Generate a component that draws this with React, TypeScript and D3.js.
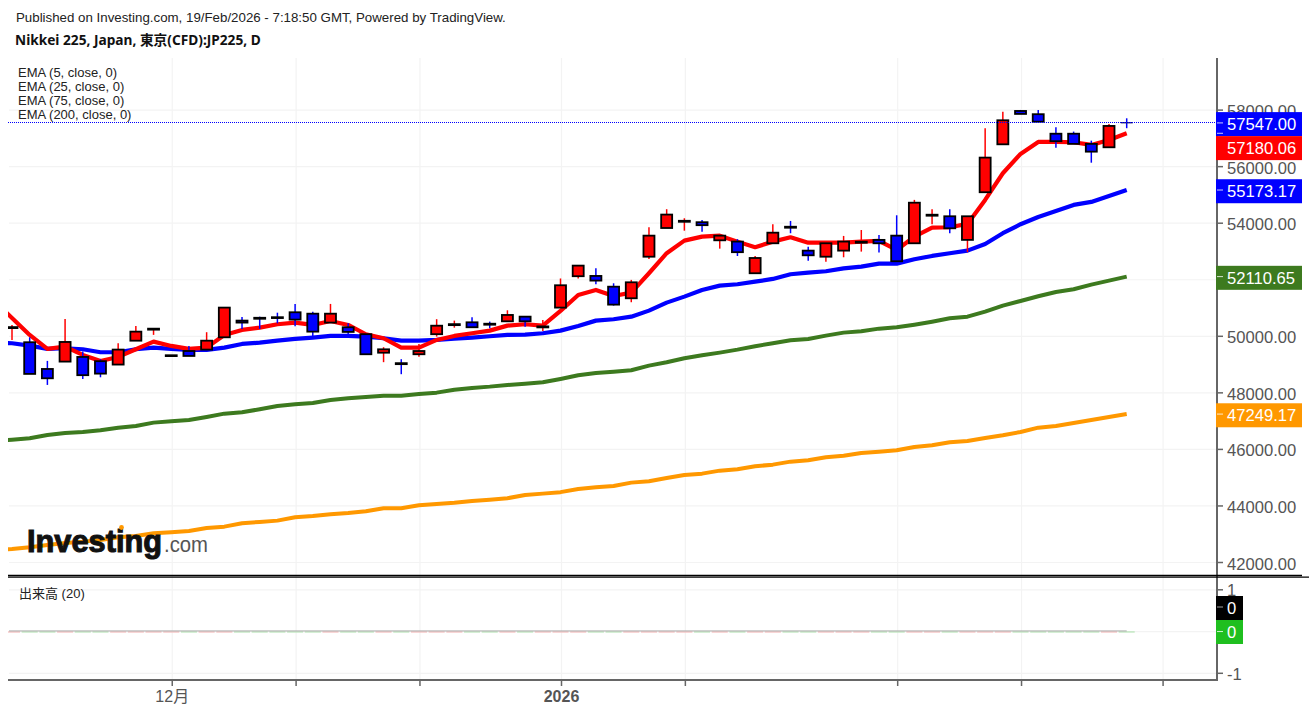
import React from "react";
import * as d3 from "d3";

const opens = [50290,49790,48845,49105,49270,49120,49000,49845,50235,49300,49480,49530,49965,50555,50655,50675,50850,50800,50485,50320,50075,49420,49050,49365,50075,50395,50495,50445,50530,50695,50315,51015,52125,52135,51755,51345,52815,53830,54050,54035,53395,53350,52230,53290,53875,53030,52815,53030,53310,53410,53560,53290,54265,54245,53410,55095,56790,57970,57855,57165,57165,56805,56685,57555];
const highs = [50400,49965,49130,50615,49460,49190,49755,50365,50270,49335,49660,50145,51015,50685,50695,50835,51145,50870,51145,50460,50075,49615,49190,49730,50605,50555,50675,50520,50920,50695,50580,52045,52500,52405,51875,51995,53855,54495,54175,54115,53560,53435,52840,53965,54080,53170,53290,53550,53760,53585,54280,54825,54495,54495,54245,57360,57945,58005,58005,57395,57240,56920,57510,57710];
const lows = [49870,48670,48280,49105,48490,48550,48985,49845,50050,49300,49305,49515,49965,50260,50260,50460,50355,50015,50485,50085,49365,49085,48660,49280,49990,50305,50320,50285,50530,50340,50190,51015,52040,51840,51085,51205,52735,53830,53735,53700,53100,52840,52230,53290,53645,52675,52640,52795,52995,52960,52655,53290,53965,53645,52975,55095,56790,57865,57590,56670,56805,56140,56685,57360];
const closes = [50325,48670,48515,49800,48625,48680,49530,50165,50270,49330,49305,49845,51015,50485,50620,50645,50590,50165,50800,50155,49365,49540,49015,49480,50375,50430,50320,50410,50755,50530,50350,51805,52500,51970,51120,51910,53560,54305,54085,53930,53560,52975,52770,53665,53840,52865,53290,53350,53345,53290,52655,54725,54300,53820,54245,56320,57640,57865,57590,56900,56805,56530,57440,57547];

// Each EMA list starts one session before the first candle; that point lies just off the plot's left edge.
const ema5 = [51250,50649,50048,49553,49634,49341,49129,49270,49542,49811,49659,49553,49599,50048,50225,50306,50426,50483,50402,50543,50402,50073,49931,49599,49599,49871,50013,50108,50200,50377,50426,50377,50897,51463,51640,51427,51544,52230,52938,53383,53525,53560,53348,53150,53348,53503,53312,53312,53312,53348,53373,53054,53525,53843,53857,53974,54823,55767,56450,56874,56874,56863,56768,56945,57180.06];
const ema25 = [49765,49755,49670,49553,49578,49542,49436,49436,49542,49599,49553,49517,49517,49599,49730,49776,49846,49906,49953,50013,50013,49988,49931,49846,49846,49871,49917,49953,50002,50048,50059,50108,50200,50366,50554,50603,50695,50908,51191,51403,51640,51792,51841,51933,52029,52195,52251,52301,52400,52464,52570,52570,52725,52842,52938,53030,53267,53645,53963,54221,54434,54646,54752,54964,55173.17];
const ema75 = [46300,46345,46394,46511,46582,46617,46677,46769,46830,46947,46996,47042,47148,47265,47314,47420,47537,47597,47643,47749,47810,47855,47901,47901,47961,48007,48113,48174,48220,48280,48326,48375,48492,48623,48704,48750,48800,48962,49083,49224,49330,49422,49528,49649,49755,49861,49906,50023,50130,50179,50271,50320,50412,50518,50638,50695,50872,51084,51250,51417,51569,51664,51827,51969,52110.65];
const ema200 = [42445,42480,42540,42621,42692,42738,42798,42893,42939,43035,43070,43116,43222,43268,43389,43435,43481,43601,43647,43707,43753,43813,43919,43919,44025,44071,44117,44177,44223,44273,44390,44436,44488,44602,44662,44708,44825,44874,44991,45097,45143,45249,45298,45404,45461,45567,45617,45723,45779,45875,45921,45970,46087,46147,46253,46299,46405,46500,46617,46769,46830,46936,47042,47148,47249.17];

const priceTicks = [42000,44000,46000,48000,50000,52000,54000,56000,58000];
const volumeTicks = [1,0,-1];
const timeTickIndex = [9,16,23,31,38,50,57,65];
const timeTickLabel = ["12月","","","2026","","","",""];
const timeTickBold = [false,false,false,true,false,false,false,false];
const legendLabels = ["EMA (5, close, 0)","EMA (25, close, 0)","EMA (75, close, 0)","EMA (200, close, 0)"];
const lastPrice = 57547;

const RED = "#ff0000";
const BLUE = "#0000ff";
const GREEN = "#3d7a1f";
const ORANGE = "#ff9800";
const GRID = "#f3f3f3";
const AXIS = "#666666";
const TEXT = "#555555";
const SANS = "'Liberation Sans','Noto Sans CJK JP',sans-serif";

const L = 9, R = 1217, TOP = 58, BOTTOM = 680;

const x = d3.scaleLinear().domain([0, 63]).range([12, 1126.7]);
const y = d3.scaleLinear().domain([42000, 58000]).range([562.5, 110.1]);
const yVol = d3.scaleLinear().domain([-1, 1]).range([673.3, 589.8]);

const lineGen = d3.line<number>().x((_, i) => x(i - 1)).y(d => y(d));

const emaSeries = [
  { values: ema200, color: ORANGE, w: 4 },
  { values: ema75, color: GREEN, w: 4 },
  { values: ema25, color: BLUE, w: 4.2 },
  { values: ema5, color: RED, w: 4.2 },
];

const badgeList = [
  { value: lastPrice, text: "57547.00", color: BLUE },
  { value: ema5[64], text: "57180.06", color: RED },
  { value: ema25[64], text: "55173.17", color: BLUE },
  { value: ema75[64], text: "52110.65", color: GREEN },
  { value: ema200[64], text: "47249.17", color: ORANGE },
];

// Badges are pushed down when they would collide with the one above.
const BADGE_H = 24;
function placeBadges() {
  let prevBottom = -Infinity;
  return badgeList.map(b => {
    const cy = Math.max(y(b.value) + 1.2, prevBottom + BADGE_H / 2);
    prevBottom = cy + BADGE_H / 2;
    return { ...b, cy };
  });
}

export default function App() {
  const bw = 11;
  const badges = placeBadges();
  const priceLineY = Math.floor(y(lastPrice)) + 0.5;
  return (
    <svg width={1309} height={713} viewBox="0 0 1309 713"
      style={{ position: "absolute", left: 0, top: 0, display: "block", background: "#fff" }}
      fontFamily={SANS}>
      <defs>
        <clipPath id="plot">
          <rect x={L - 1} y={TOP} width={R - L + 1} height={BOTTOM - TOP} />
        </clipPath>
      </defs>
      {/* grid */}
      {priceTicks.map(t => (
        <line key={t} x1={L} x2={R} y1={y(t)} y2={y(t)} stroke={GRID} strokeWidth={1.2} />
      ))}
      {volumeTicks.map(t => (
        <line key={t} x1={L} x2={R} y1={yVol(t)} y2={yVol(t)} stroke={GRID} strokeWidth={1.2} />
      ))}
      {timeTickIndex.map(i => (
        <line key={i} x1={x(i) + 1} x2={x(i) + 1} y1={TOP} y2={BOTTOM} stroke={GRID} strokeWidth={1.2} />
      ))}

      <g clipPath="url(#plot)">
        {/* EMA lines */}
        {emaSeries.map((s, k) => (
          <path key={k} d={lineGen(s.values) ?? ""} fill="none" stroke={s.color} strokeWidth={s.w} strokeLinejoin="round" />
        ))}

        {/* candles */}
        {closes.map((c, i) => {
          const o = opens[i];
          const col = c >= o ? RED : BLUE;
          const top = y(Math.max(o, c));
          const bot = y(Math.min(o, c));
          return (
            <g key={i}>
              <line x1={x(i)} x2={x(i)} y1={y(highs[i])} y2={y(lows[i])} stroke={col} strokeWidth={1.5} />
              {i === 63 ? (
                <line x1={x(i) - 6} x2={x(i) + 6} y1={top} y2={top} stroke="#1a1a66" strokeWidth={1.4} />
              ) : (
                <rect x={x(i) - bw / 2} y={top} width={bw} height={Math.max(bot - top, 0.8)}
                  fill={col} stroke="#000" strokeWidth={1.8} />
              )}
            </g>
          );
        })}
      </g>

      {/* last price dotted line */}
      <line x1={L - 1} x2={R} y1={priceLineY} y2={priceLineY}
        stroke="#0000ff" strokeWidth={1} strokeDasharray="1 1" />

      {/* volume pane */}
      <g clipPath="url(#plot)">
        {closes.map((c, i) => (
          <line key={i} x1={x(i) - 8} x2={x(i) + 8} y1={yVol(0) + 0.4} y2={yVol(0) + 0.4}
            stroke={c >= opens[i] ? "#f4b6b6" : "#b4e4b4"} strokeWidth={1.2} />
        ))}
      </g>
      <line x1={L} x2={x(63)} y1={yVol(0) - 0.6} y2={yVol(0) - 0.6} stroke="#aaaaaa" strokeWidth={1} />

      {/* logo */}
      <text x={27} y={552} fontSize={32} fontWeight={700} fill="#111" stroke="#111" strokeWidth={1.1}
        textLength={135} lengthAdjust="spacingAndGlyphs">Investing</text>
      <circle cx={121.5} cy={527.5} r={2.4} fill={ORANGE} />
      <text x={164} y={552} fontSize={22} fill="#555" textLength={44} lengthAdjust="spacingAndGlyphs">.com</text>

      {/* axes */}
      <line x1={R} x2={R} y1={TOP} y2={BOTTOM + 1} stroke={AXIS} strokeWidth={2} />
      <line x1={L - 1} x2={R} y1={BOTTOM} y2={BOTTOM} stroke={AXIS} strokeWidth={2} />
      {priceTicks.map(t => (
        <g key={t}>
          <line x1={R} x2={R + 6} y1={y(t)} y2={y(t)} stroke={AXIS} strokeWidth={1.5} />
          <text x={1227} y={y(t) + 7} fontSize={16.6} fill={TEXT}>{d3.format(".2f")(t)}</text>
        </g>
      ))}
      {volumeTicks.map(t => (
        <g key={t}>
          <line x1={R} x2={R + 6} y1={yVol(t)} y2={yVol(t)} stroke={AXIS} strokeWidth={1.5} />
          <text x={1227} y={yVol(t) + 6.5} fontSize={16.6} fill={TEXT}>{t < 0 ? "-" + Math.abs(t) : t}</text>
        </g>
      ))}
      {timeTickIndex.map((i, k) => (
        <g key={i}>
          <line x1={x(i) + 1} x2={x(i) + 1} y1={BOTTOM} y2={BOTTOM + 6} stroke={AXIS} strokeWidth={1.5} />
          {timeTickLabel[k] && (
            <text x={x(i) + 1} y={702} fontSize={16} textAnchor="middle" fill={TEXT}
              fontWeight={timeTickBold[k] ? 700 : 400}>{timeTickLabel[k]}</text>
          )}
        </g>
      ))}

      {/* pane separator */}
      <line x1={L - 1} x2={1302} y1={575.5} y2={575.5} stroke="#000" strokeWidth={1.3} />
      <line x1={L - 1} x2={1309} y1={577.2} y2={577.2} stroke="#000" strokeWidth={1.3} />

      {/* value badges */}
      {badges.map(b => (
        <g key={b.text}>
          <rect x={1216} y={b.cy - BADGE_H / 2} width={86} height={BADGE_H} fill={b.color} />
          <line x1={R} x2={R + 6} y1={y(b.value)} y2={y(b.value)} stroke="#fff" strokeWidth={0.8} />
          <text x={1227} y={b.cy + 6} fontSize={16.6} fill="#fff">{b.text}</text>
        </g>
      ))}
      <rect x={1216} y={596} width={27} height={BADGE_H} fill="#000" />
      <line x1={R} x2={R + 6} y1={607} y2={607} stroke="#ccc" strokeWidth={0.8} />
      <text x={1227} y={614} fontSize={16.6} fill="#fff">0</text>
      <rect x={1216} y={620} width={27} height={BADGE_H} fill="#1fbf1f" />
      <line x1={R} x2={R + 6} y1={yVol(0)} y2={yVol(0)} stroke="#fff" strokeWidth={0.8} />
      <text x={1227} y={638} fontSize={16.6} fill="#fff">0</text>

      {/* text */}
      <text x={16} y={22} fontSize={13.3} fill="#222">Published on Investing.com, 19/Feb/2026 - 7:18:50 GMT, Powered by TradingView.</text>
      <text x={15} y={45} fontSize={13.7} fontWeight={700} fill="#111" fontFamily="'Noto Sans','Noto Sans CJK JP',sans-serif">Nikkei 225, Japan, 東京(CFD):JP225, D</text>
      {legendLabels.map((t, i) => (
        <text key={t} x={18} y={76.5 + i * 14} fontSize={13} fill="#222">{t}</text>
      ))}
      <text x={19} y={598} fontSize={13} fill="#222">出来高 (20)</text>
    </svg>
  );
}
